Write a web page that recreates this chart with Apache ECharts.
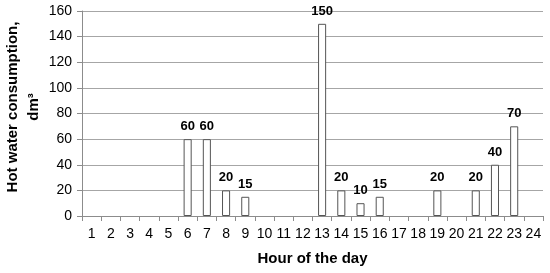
<!DOCTYPE html>
<html>
<head>
<meta charset="utf-8">
<script src="https://cdn.jsdelivr.net/npm/echarts@6/dist/echarts.min.js"></script>
<style>html,body{margin:0;padding:0;background:#fff;}#c{width:550px;height:273px;}</style>
</head>
<body>
<div id="c"></div>
<script>
const hours = ['1','2','3','4','5','6','7','8','9','10','11','12','13','14','15','16','17','18','19','20','21','22','23','24'];
const consumption = [0,0,0,0,0,60,60,20,15,0,0,0,150,20,10,15,0,0,20,0,20,40,70,0];
const yTicks = [0,20,40,60,80,100,120,140,160];

const chart = echarts.init(document.getElementById('c'), null, {renderer:'canvas'});
chart.setOption({
  animation:false,
  backgroundColor:'#fff',
  textStyle:{fontFamily:'Liberation Sans, Arial, sans-serif'},
  grid:{left:82,right:7,top:11,bottom:57,containLabel:false,outerBoundsMode:'none'},
  xAxis:{
    type:'category',
    data:hours,
    boundaryGap:true,
    name:'Hour of the day',
    nameLocation:'middle',
    nameGap:35,
    nameMoveOverlap:false,
    nameTextStyle:{fontSize:15,fontWeight:'bold',color:'#000',fontFamily:'Liberation Sans, Arial, sans-serif'},
    axisLine:{show:true,lineStyle:{color:'#8c8c8c',width:1}},
    axisTick:{show:true,alignWithLabel:false,length:5,lineStyle:{color:'#8c8c8c'}},
    axisLabel:{interval:0,fontSize:14,color:'#000',margin:11},
    splitLine:{show:false}
  },
  yAxis:{
    type:'value',
    min:yTicks[0],
    max:yTicks[yTicks.length-1],
    interval:yTicks[1]-yTicks[0],
    name:'Hot water consumption,\ndm³',
    nameLocation:'middle',
    nameGap:38,
    nameRotate:90,
    nameMoveOverlap:false,
    nameTextStyle:{fontSize:15,fontWeight:'bold',color:'#000',lineHeight:21,align:'center',padding:[0,0,0,13],fontFamily:'Liberation Sans, Arial, sans-serif'},
    axisLine:{show:true,lineStyle:{color:'#8c8c8c',width:1}},
    axisTick:{show:true,length:5,lineStyle:{color:'#8c8c8c'}},
    axisLabel:{fontSize:14,color:'#000',margin:10},
    splitLine:{show:true,lineStyle:{color:'#a6a6a6',width:1}}
  },
  series:[{
    type:'bar',
    data:consumption.map(v => v > 0 ? v : {value:v, itemStyle:{borderWidth:0}}),
    barWidth:'42%',
    itemStyle:{color:'#fff',borderColor:'#555',borderWidth:1},
    label:{
      show:true,
      position:'top',
      distance:6,
      fontSize:13,
      fontWeight:'bold',
      color:'#000',
      formatter:p=>p.value>0?String(p.value):''
    }
  }]
});
</script>
</body>
</html>
